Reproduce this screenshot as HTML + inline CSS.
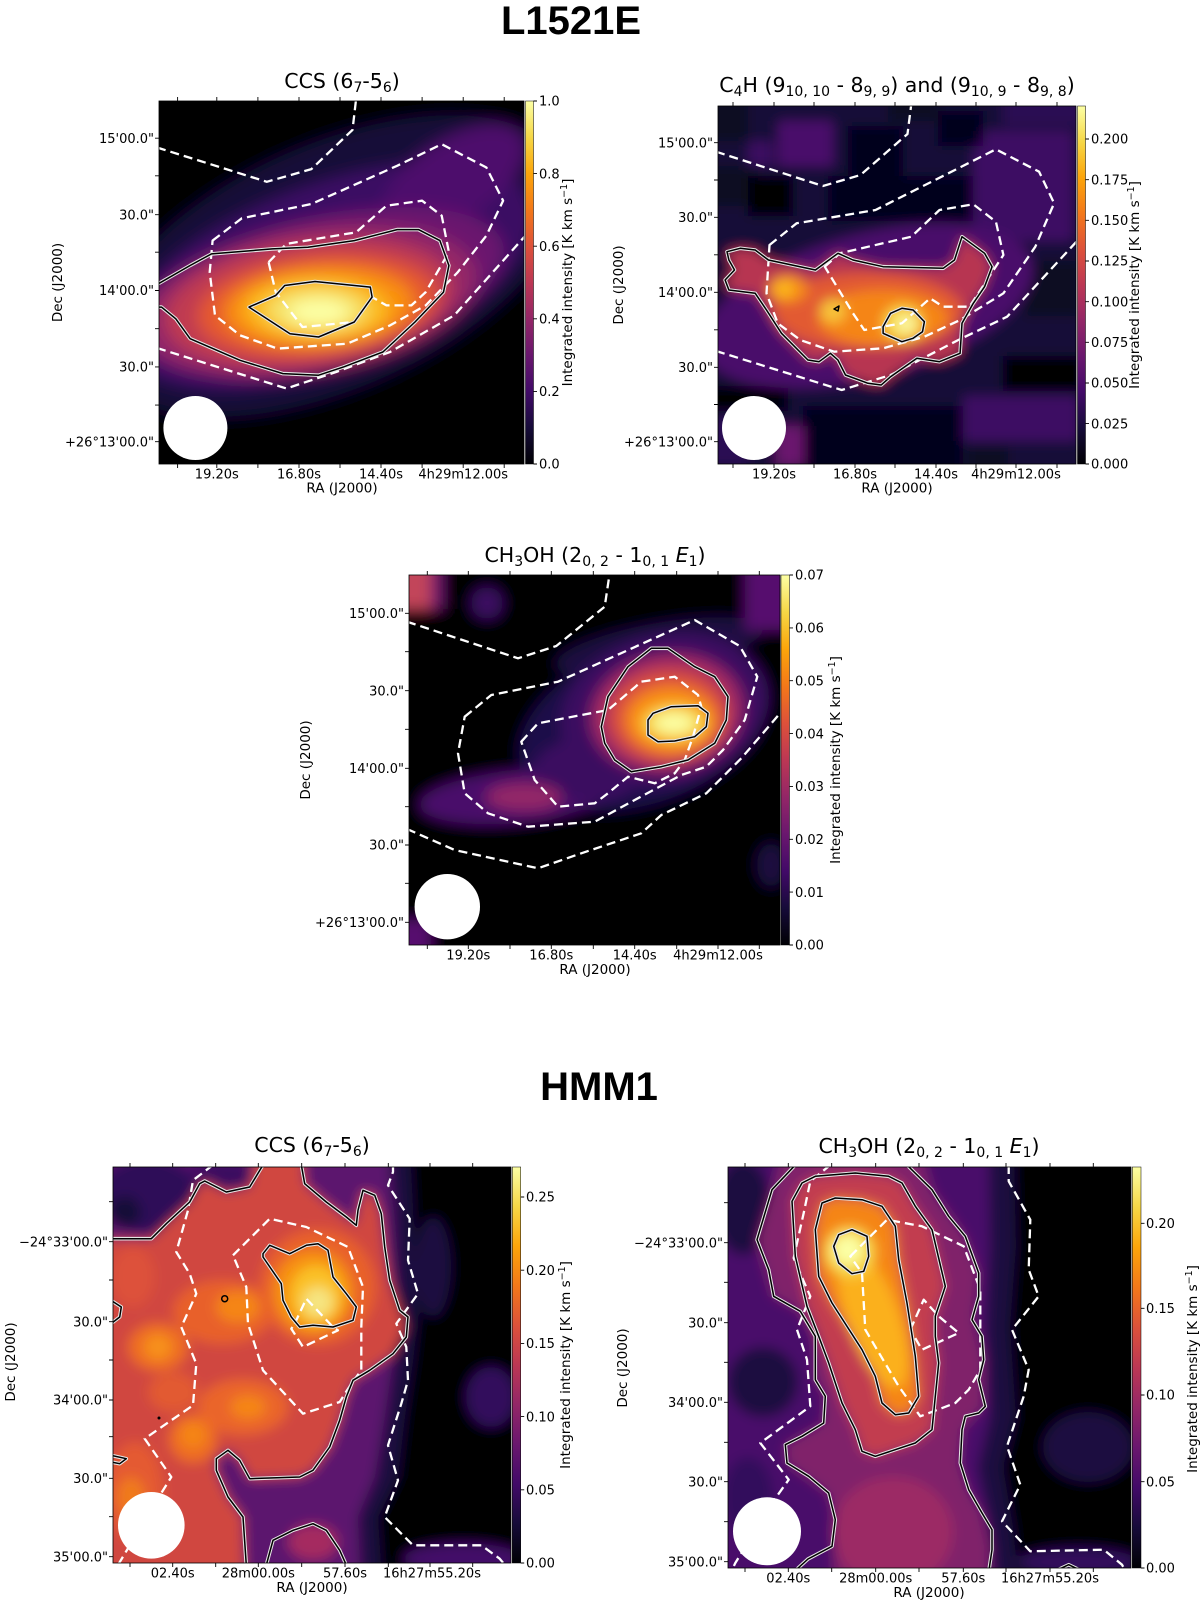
<!DOCTYPE html>
<html><head><meta charset="utf-8">
<style>
body{margin:0;background:#fff}
svg{display:block}
.d{fill:none;stroke:#fff;stroke-width:2.3;stroke-dasharray:9 5;stroke-linejoin:round}
.kw{fill:none;stroke:#e6e6e6;stroke-width:3.6;stroke-linejoin:round}
.k{fill:none;stroke:#000;stroke-width:1.5;stroke-linejoin:round}
.tk{fill:none;stroke:#000;stroke-width:0.9}
.tl{font-size:13px}
.al{font-size:13.5px}
.ti{font-size:20.5px}
</style></head>
<body>
<svg width="1200" height="1608" viewBox="0 0 1200 1608" xmlns="http://www.w3.org/2000/svg" xmlns:xlink="http://www.w3.org/1999/xlink" font-family="'DejaVu Sans','Liberation Sans',sans-serif" fill="#000">
<defs>
<linearGradient id="inf" x1="0" y1="1" x2="0" y2="0">
<stop offset="0" stop-color="#000004"/><stop offset="0.1" stop-color="#160b39"/><stop offset="0.2" stop-color="#420a68"/><stop offset="0.3" stop-color="#6a176e"/><stop offset="0.4" stop-color="#932667"/><stop offset="0.5" stop-color="#bc3754"/><stop offset="0.6" stop-color="#dd513a"/><stop offset="0.7" stop-color="#f37819"/><stop offset="0.8" stop-color="#fca50a"/><stop offset="0.9" stop-color="#f6d746"/><stop offset="1" stop-color="#fcffa4"/>
</linearGradient>
<filter id="bl8" filterUnits="userSpaceOnUse" x="-80" y="-80" width="580" height="580"><feGaussianBlur stdDeviation="8"/></filter>
<filter id="bl7" filterUnits="userSpaceOnUse" x="-80" y="-80" width="580" height="580"><feGaussianBlur stdDeviation="7"/></filter>
<filter id="bl6" filterUnits="userSpaceOnUse" x="-80" y="-80" width="580" height="580"><feGaussianBlur stdDeviation="6"/></filter>
<clipPath id="cp1"><rect width="365" height="363"/></clipPath>
<clipPath id="cp2"><rect width="358" height="358"/></clipPath>
<clipPath id="cp3"><rect width="371" height="370"/></clipPath>
<clipPath id="cp4"><rect width="398" height="396"/></clipPath>
<clipPath id="cp5"><rect width="403" height="401"/></clipPath>

<polyline id="p1e" points="-2,183.5 31.1,164.5 52.5,152.9 113.2,147.9 148.9,146.3 195.3,139.6 238.1,128.6 259.5,128.6 280.9,139.6 289.9,164.5 284.5,191.1 256,221 223.9,251 184.6,265.9 159.6,274.2 123.9,272.6 81,259.3 31.1,237.7 16.8,217.8 2.5,206.1 -2,206.1"/>
<polygon id="p1f" points="90,206.1 116.7,194.5 125.7,184.5 156,180.5 211.3,186.1 213.1,196.1 195.3,221 159.6,236 131,232.7"/>

<polygon id="p2e" points="9,145.7 22.2,142.3 37.2,144 50.4,154 97.4,164 120,147.3 135,154 165.1,160.7 225.2,162.3 236.5,154 244,130.7 266.6,147.3 274.1,160.7 266.6,180.7 255.3,197.3 244,217.3 242.1,247.3 221.5,255.7 198.9,252.3 172.6,270.7 163.2,279 150,277.3 127.5,269 119.9,254 112.4,247.3 101.1,255.7 89.9,254 63.5,227.3 48.5,204 37.2,187.3 10.9,184 7.1,174 16.5,164 10.9,154"/>
<polygon id="p2f" points="165.1,220.7 172.6,207.3 183.9,202.3 195.1,204 206.4,215.7 204.5,225.7 195.1,232.3 183.9,235.7 165.1,227.3"/>
<polygon id="p2g" points="116,203 121,200 120,205"/>

<polygon id="p3e" points="192.3,151.7 199,121.7 219,91.7 242.3,73.3 259,73.3 285.7,91.7 305.7,101.7 319,121.7 317.3,145 305.7,168.3 279,185 252.3,191.7 222.3,196.7 205.7,185 195.7,168.3"/>
<polygon id="p3f" points="239,145 244,138.3 262.3,131.7 289,130.7 299,138.3 297.3,151.7 285.7,161.7 265.7,166 249,166.7 239,160"/>

<polyline id="p4a" points="-2,71.7 38.3,71.7 53.3,56.7 76.7,35 86.7,16.7 91.7,14 113.3,25 136.7,20 150,-2"/>
<polyline id="p4b" points="188.3,-2 191.7,16.7 213.3,35 233.3,50 243.3,58.3 245,43.3 250,23.3 261.7,28.3 268.3,46.7 271.7,80 276.7,113.3 286.7,143.3 295,150 293.3,170 280,186.7 256.7,203.3 240,213.3 233.3,230 226.7,253.3 216.7,280 200,303.3 186.7,310 136.7,311.7 126.7,293.3 115,283.3 103.3,291.7 103.3,303.3 115,330 130,350 133.3,398"/>
<polyline id="p4c" points="153.3,398 160,373.3 180,363.3 200,356.7 213.3,363.3 226.7,383.3 233.3,398"/>
<polyline id="p4d" points="-2,133.3 8.3,140 6.7,150 -2,156.7"/>
<polyline id="p4e" points="-2,288.3 13.3,291.7 6.7,296.7 -2,295"/>
<polygon id="p4h" points="150,86.7 156.7,78.3 176.7,86.7 193.3,78.3 205,76.7 215,83.3 220,110 233.3,126.7 243.3,140 240,153.3 220,160 200,158.3 186.7,160 178.3,150 170,133.3 168.3,116.7 150,90"/>
<circle id="p4s" cx="111.7" cy="131.7" r="3"/>

<polyline id="p5a" points="67.3,-2 44,22.7 29,72.7 40.7,102.7 45.7,129.3 72.3,144.3 87.3,169.3 87.3,212.7 97.3,229.3 95.7,256 74,269.3 57.3,277.7 59,296 80.7,309.3 100.7,326 107.3,352.7 104,379.3 80,392 65.7,405"/>
<polyline id="p5b" points="179,-2 204,22.7 220.7,49.3 237.3,69.3 250.7,106 250.7,129.3 244,152.7 254,169.3 255.7,192.7 250.7,212.7 257.3,239.3 250.7,246 237.3,249.3 234,262.7 232.3,296 240.7,322.7 254,346 264,362.7 264,382.7 260.7,405"/>
<polyline id="p5c" points="325,405 340.7,397.7 356,405"/>
<polygon id="p5j" points="64,34.3 74,16 87.3,9.3 127.3,6 160.7,9.3 174,16 187.3,39.3 204,62.7 217.3,119.3 214,129.3 207.3,149.3 207.3,169.3 210.7,196 207.3,229.3 204,262.7 187.3,276 147.3,289.3 134,284.3 127.3,262.7 114,236 100.7,196 90.7,169.3 79,139.3 67.3,89.3"/>
<polygon id="p5k" points="87.3,62.7 94,36 107.3,31 134,32.7 154,39.3 167.3,59.3 170.7,92.7 179,136 187.3,189.3 190.7,229.3 180.7,246 167.3,247.7 154,236 147.3,209.3 134,182.7 104,136 90.7,109.3"/>
<polygon id="p5l" points="105.7,79.3 110.7,67.7 124,62.7 139,69.3 140.7,89.3 135.7,104.3 124,106.7 110.7,96"/>
</defs>

<!-- Main titles -->
<text x="571" y="34" font-family="'Liberation Sans',Arial,sans-serif" font-weight="bold" font-size="40" text-anchor="middle">L1521E</text>
<text x="599" y="1100" font-family="'Liberation Sans',Arial,sans-serif" font-weight="bold" font-size="40" text-anchor="middle">HMM1</text>

<!-- ================= PANEL 1 ================= -->
<g transform="translate(159,101)">
 <g clip-path="url(#cp1)">
  <g filter="url(#bl8)">
   <rect x="-60" y="-60" width="485" height="483" fill="#000004"/>
   <ellipse cx="175" cy="165" rx="250" ry="122" transform="rotate(-24 175 165)" fill="#160b39"/>
   <ellipse cx="170" cy="175" rx="215" ry="92" transform="rotate(-20 170 175)" fill="#3b0a64"/>
   <ellipse cx="295" cy="78" rx="80" ry="40" transform="rotate(-32 295 78)" fill="#4d0d6c"/>
   <ellipse cx="160" cy="190" rx="190" ry="72" transform="rotate(-14 160 190)" fill="#6a176e"/>
   <ellipse cx="150" cy="200" rx="170" ry="72" transform="rotate(-10 150 200)" fill="#932667"/>
   <ellipse cx="150" cy="202" rx="145" ry="62" transform="rotate(-8 150 202)" fill="#c03a51"/>
   <ellipse cx="158" cy="205" rx="120" ry="50" transform="rotate(-6 158 205)" fill="#e5592f"/>
   <ellipse cx="160" cy="206" rx="95" ry="40" transform="rotate(-4 160 206)" fill="#f98e09"/>
   <ellipse cx="158" cy="208" rx="72" ry="31" fill="#fbbd22"/>
   <ellipse cx="158" cy="209" rx="50" ry="21" fill="#f6e36a"/>
   <ellipse cx="160" cy="211" rx="30" ry="13" fill="#fcffa4"/>
  </g>
  <polyline class="d" points="-2,46.5 107.8,80.8 152.4,68.1 193.5,28.9 197.1,-2"/>
  <polygon class="d" points="53.6,139.6 82.8,117.3 152.4,103 238.1,64.8 282.7,43.2 327.4,66.5 344.1,99.7 327.4,134.6 298.8,171.2 266.7,204.4 231,224.4 188.1,242.7 118.5,247.6 81,234.3 56,214.4 50.7,171.2"/>
  <polygon class="d" points="109.6,161.2 127.4,142.9 197.1,131.3 227.4,104.7 263.1,99.7 282.7,114.7 289.9,151.2 266.7,191.1 252.4,204.4 227.4,204.4 213.1,196.1 195.3,221 143.5,226 116.7,191.1"/>
  <polyline class="d" points="-2,247 127.4,287.5 177.4,270.9 231,251 295.2,214.4 367,134"/>
  <use xlink:href="#p1e" class="kw"/><use xlink:href="#p1e" class="k"/>
  <use xlink:href="#p1f" class="kw"/><use xlink:href="#p1f" class="k"/>
  <circle cx="36.4" cy="327" r="32" fill="#fff"/>
 </g>
 <rect width="365" height="363" fill="none" stroke="#000" stroke-width="0.8"/>
</g>
<path class="tk" d="M177.6 101v-4M216.8 101v-4M257.9 101v-4M299 101v-4M340 101v-4M381 101v-4M422.1 101v-4M463.2 101v-4M504.2 101v-4M177.6 464v4M216.8 464v4M257.9 464v4M299 464v4M340 464v4M381 464v4M422.1 464v4M463.2 464v4M504.2 464v4M159 138.2h-4M159 175.8h-4M159 214.7h-4M159 252.2h-4M159 290.5h-4M159 328.7h-4M159 366.9h-4M159 405.1h-4M159 441.7h-4"/>
<rect x="525.5" y="101" width="8" height="363" fill="url(#inf)" stroke="#000" stroke-width="0.5"/>
<path class="tk" d="M533.5 101h3.5M533.5 173.6h3.5M533.5 246.2h3.5M533.5 318.8h3.5M533.5 391.4h3.5M533.5 464h3.5"/>
<g class="tl">
 <text x="539" y="105.7">1.0</text><text x="539" y="178.3">0.8</text><text x="539" y="250.9">0.6</text><text x="539" y="323.5">0.4</text><text x="539" y="396.1">0.2</text><text x="539" y="468.7">0.0</text>
 <g text-anchor="end"><text x="154" y="142.9">15'00.0"</text><text x="154" y="219.4">30.0"</text><text x="154" y="295.2">14'00.0"</text><text x="154" y="371.6">30.0"</text><text x="154" y="446.4">+26°13'00.0"</text></g>
 <g text-anchor="middle"><text x="216.8" y="478.5">19.20s</text><text x="299" y="478.5">16.80s</text><text x="381" y="478.5">14.40s</text><text x="463.2" y="478.5">4h29m12.00s</text></g>
</g>
<text class="al" x="342" y="492.5" text-anchor="middle">RA (J2000)</text>
<text class="al" transform="translate(62,282.5) rotate(-90)" text-anchor="middle">Dec (J2000)</text>
<text class="al" transform="translate(572,282.5) rotate(-90)" text-anchor="middle">Integrated intensity [K km s<tspan font-size="9.5" dy="-5">−1</tspan><tspan dy="5">]</tspan></text>
<text class="ti" x="342" y="88" text-anchor="middle">CCS (6<tspan font-size="14" dy="4">7</tspan><tspan dy="-4">-5</tspan><tspan font-size="14" dy="4">6</tspan><tspan dy="-4">)</tspan></text>

<!-- ================= PANEL 2 ================= -->
<g transform="translate(718,106)">
 <g clip-path="url(#cp2)">
  <g filter="url(#bl6)">
   <rect x="-60" y="-60" width="478" height="478" fill="#160a37"/>
   <rect x="-10" y="60" width="50" height="40" fill="#0a0722"/>
   <rect x="30" y="70" width="45" height="40" fill="#000004"/>
   <rect x="110" y="70" width="160" height="45" fill="#04031a"/>
   <rect x="130" y="20" width="55" height="50" fill="#06041a"/>
   <rect x="-10" y="-10" width="40" height="45" fill="#0a0722"/>
   <rect x="60" y="15" width="55" height="45" fill="#4a0c6b"/>
   <rect x="30" y="35" width="25" height="25" fill="#3a0a60"/>
   <rect x="255" y="25" width="100" height="110" fill="#3d0a63"/>
   <rect x="220" y="5" width="45" height="35" fill="#06041a"/>
   <rect x="285" y="-10" width="80" height="30" fill="#2a0b52"/>
   <rect x="170" y="-10" width="50" height="25" fill="#0a0722"/>
   <rect x="85" y="300" width="160" height="70" fill="#04031a"/>
   <rect x="-10" y="280" width="80" height="25" fill="#000004"/>
   <rect x="285" y="250" width="80" height="35" fill="#000004"/>
   <rect x="305" y="155" width="55" height="55" fill="#0a0722"/>
   <rect x="245" y="290" width="115" height="45" fill="#3d0a63"/>
   <rect x="58" y="320" width="28" height="40" fill="#6a176e"/>
   <rect x="-10" y="310" width="40" height="50" fill="#2a0b52"/>
   <rect x="250" y="340" width="40" height="30" fill="#0a0722"/>
   <ellipse cx="150" cy="200" rx="170" ry="72" transform="rotate(-15 150 200)" fill="#4a0c6b"/>
   <use xlink:href="#p2e" fill="#b73551"/>
   <ellipse cx="150" cy="205" rx="95" ry="38" fill="#e25a31"/>
   <ellipse cx="165" cy="212" rx="65" ry="28" fill="#f58513"/>
   <ellipse cx="70" cy="183" rx="20" ry="14" fill="#f68a12"/>
   <ellipse cx="185" cy="217" rx="20" ry="18" fill="#f6d746"/>
   <ellipse cx="115" cy="205" rx="13" ry="12" fill="#f7c33a"/>
   <ellipse cx="66" cy="183" rx="10" ry="9" fill="#fbb61a"/>
   <ellipse cx="188" cy="218" rx="10" ry="9" fill="#fbf5a0"/>
  </g>
  <polyline class="d" points="-2,45.7 104.9,80 142.5,69 189.5,28 193.3,-2"/>
  <polygon class="d" points="51.5,139 78.6,117.3 157.5,104 277.9,43.3 321.1,65.7 336.1,97.3 317.3,140.7 285.4,187.3 242.1,214 206.4,230.7 165.1,242.3 116.2,245.7 82.3,234 59.8,217.3 48.5,187.3"/>
  <polygon class="d" points="106.8,160.7 121.8,147.3 193.3,130.7 221.5,104 255.3,98.3 277.9,115.7 285.4,149 251.5,200.7 225.2,200.7 212.1,192.3 183.9,217.3 146.3,224 135,207.3"/>
  <polyline class="d" points="-2,245 123.7,284 172.6,269 240.3,234 289.1,210.7 360,134"/>
  <use xlink:href="#p2e" class="kw"/><use xlink:href="#p2e" class="k"/>
  <use xlink:href="#p2f" class="kw"/><use xlink:href="#p2f" class="k"/>
  <use xlink:href="#p2g" class="k"/>
  <circle cx="36" cy="322" r="32" fill="#fff"/>
 </g>
 <rect width="358" height="358" fill="none" stroke="#000" stroke-width="0.8"/>
</g>
<path class="tk" d="M733 106v-4M774 106v-4M814 106v-4M855 106v-4M895 106v-4M936 106v-4M976 106v-4M1016 106v-4M1057 106v-4M733 464v4M774 464v4M814 464v4M855 464v4M895 464v4M936 464v4M976 464v4M1016 464v4M1057 464v4M718 142.7h-4M718 180h-4M718 217.3h-4M718 254.8h-4M718 292.3h-4M718 329.8h-4M718 367.3h-4M718 404.5h-4M718 441.7h-4"/>
<rect x="1077.5" y="106" width="8" height="358" fill="url(#inf)" stroke="#000" stroke-width="0.5"/>
<path class="tk" d="M1085.5 139h3.5M1085.5 179.7h3.5M1085.5 220.3h3.5M1085.5 261h3.5M1085.5 301.7h3.5M1085.5 342.3h3.5M1085.5 383h3.5M1085.5 423.6h3.5M1085.5 464h3.5"/>
<g class="tl">
 <text x="1091" y="143.7">0.200</text><text x="1091" y="184.4">0.175</text><text x="1091" y="225">0.150</text><text x="1091" y="265.7">0.125</text><text x="1091" y="306.4">0.100</text><text x="1091" y="347">0.075</text><text x="1091" y="387.7">0.050</text><text x="1091" y="428.3">0.025</text><text x="1091" y="468.7">0.000</text>
 <g text-anchor="end"><text x="713" y="147.4">15'00.0"</text><text x="713" y="222">30.0"</text><text x="713" y="297">14'00.0"</text><text x="713" y="372">30.0"</text><text x="713" y="446.4">+26°13'00.0"</text></g>
 <g text-anchor="middle"><text x="774" y="478.5">19.20s</text><text x="855" y="478.5">16.80s</text><text x="936" y="478.5">14.40s</text><text x="1016" y="478.5">4h29m12.00s</text></g>
</g>
<text class="al" x="897" y="492.5" text-anchor="middle">RA (J2000)</text>
<text class="al" transform="translate(623,285) rotate(-90)" text-anchor="middle">Dec (J2000)</text>
<text class="al" transform="translate(1139,285) rotate(-90)" text-anchor="middle">Integrated intensity [K km s<tspan font-size="9.5" dy="-5">−1</tspan><tspan dy="5">]</tspan></text>
<text class="ti" x="897" y="92" text-anchor="middle">C<tspan font-size="14" dy="4">4</tspan><tspan dy="-4">H (9</tspan><tspan font-size="14" dy="4">10, 10</tspan><tspan dy="-4"> - 8</tspan><tspan font-size="14" dy="4">9, 9</tspan><tspan dy="-4">) and (9</tspan><tspan font-size="14" dy="4">10, 9</tspan><tspan dy="-4"> - 8</tspan><tspan font-size="14" dy="4">9, 8</tspan><tspan dy="-4">)</tspan></text>

<!-- ================= PANEL 3 ================= -->
<g transform="translate(409,575)">
 <g clip-path="url(#cp3)">
  <g filter="url(#bl7)">
   <rect x="-60" y="-60" width="491" height="490" fill="#000004"/>
   <ellipse cx="250" cy="72" rx="105" ry="24" transform="rotate(-10 250 72)" fill="#1b0c41"/>
   <ellipse cx="235" cy="150" rx="130" ry="78" transform="rotate(-20 235 150)" fill="#1f0c48"/>
   <ellipse cx="255" cy="135" rx="105" ry="75" transform="rotate(-15 255 135)" fill="#3a0a60"/>
   <ellipse cx="105" cy="222" rx="95" ry="26" transform="rotate(-5 105 222)" fill="#4a0c6b"/>
   <ellipse cx="180" cy="195" rx="55" ry="32" fill="#3a0a60"/>
   <ellipse cx="115" cy="222" rx="38" ry="14" fill="#932667"/>
   <ellipse cx="258" cy="138" rx="78" ry="60" transform="rotate(-10 258 138)" fill="#8f2469"/>
   <ellipse cx="258" cy="138" rx="68" ry="52" transform="rotate(-10 258 138)" fill="#b0335a"/>
   <ellipse cx="260" cy="142" rx="58" ry="45" fill="#dd513a"/>
   <ellipse cx="262" cy="145" rx="45" ry="33" fill="#f98e09"/>
   <ellipse cx="265" cy="148" rx="32" ry="18" fill="#f6d746"/>
   <ellipse cx="265" cy="148" rx="20" ry="10" fill="#fcffa4"/>
   <rect x="-20" y="-20" width="42" height="54" fill="#c2455a"/>
   <rect x="22" y="-20" width="12" height="54" fill="#6a176e"/>
   <ellipse cx="78" cy="28" rx="16" ry="16" fill="#3a0a60"/>
   <rect x="336" y="-20" width="55" height="75" fill="#57106e"/>
   <rect x="-20" y="345" width="42" height="45" fill="#57106e"/>
   <ellipse cx="362" cy="290" rx="14" ry="22" fill="#1b0c41"/>
  </g>
  <polyline class="d" points="-2,46.7 109,83.3 147.3,71 195.7,31.7 200.7,-2"/>
  <polygon class="d" points="55.7,141.7 82.3,120 149,106.7 285.7,45 330.7,71 348.3,101.7 335.7,145 314,175 297.3,191.7 272.3,200 225.7,225 185.7,246.7 119,251.7 79,238.3 55.7,218.3 49,178.3"/>
  <polygon class="d" points="112.3,166.7 129,148.3 199,135 232.3,106.7 265.7,101.7 289,120 292.3,131.7 284,161.7 275.7,185 265.7,198.3 245.7,208.3 219,201.7 199,218.3 185.7,228.3 149,231.7 125.7,205"/>
  <polyline class="d" points="-2,254 45.7,275 129,293.3 172.3,278.3 232.3,258.3 252.3,240 297.3,218.3 332.3,183.3 373,136"/>
  <use xlink:href="#p3e" class="kw"/><use xlink:href="#p3e" class="k"/>
  <use xlink:href="#p3f" class="kw"/><use xlink:href="#p3f" class="k"/>
  <circle cx="38.3" cy="331.7" r="32.7" fill="#fff"/>
 </g>
 <rect width="371" height="370" fill="none" stroke="#000" stroke-width="0.8"/>
</g>
<path class="tk" d="M427.3 575v-4M468.3 575v-4M510 575v-4M551.3 575v-4M593.3 575v-4M634.7 575v-4M676.7 575v-4M718 575v-4M759.3 575v-4M427.3 945v4M468.3 945v4M510 945v4M551.3 945v4M593.3 945v4M634.7 945v4M676.7 945v4M718 945v4M759.3 945v4M409 613.3h-4M409 651.7h-4M409 690.7h-4M409 729.3h-4M409 768.3h-4M409 806.7h-4M409 845h-4M409 883.3h-4M409 922.3h-4"/>
<rect x="781" y="575" width="8.5" height="370" fill="url(#inf)" stroke="#000" stroke-width="0.5"/>
<path class="tk" d="M789.5 575h3.5M789.5 627.9h3.5M789.5 680.7h3.5M789.5 733.6h3.5M789.5 786.4h3.5M789.5 839.3h3.5M789.5 892.1h3.5M789.5 945h3.5"/>
<g class="tl">
 <text x="795" y="579.7">0.07</text><text x="795" y="632.6">0.06</text><text x="795" y="685.4">0.05</text><text x="795" y="738.3">0.04</text><text x="795" y="791.1">0.03</text><text x="795" y="844">0.02</text><text x="795" y="896.8">0.01</text><text x="795" y="949.7">0.00</text>
 <g text-anchor="end"><text x="404" y="618">15'00.0"</text><text x="404" y="695.4">30.0"</text><text x="404" y="773">14'00.0"</text><text x="404" y="849.7">30.0"</text><text x="404" y="927">+26°13'00.0"</text></g>
 <g text-anchor="middle"><text x="468.3" y="959.5">19.20s</text><text x="551.3" y="959.5">16.80s</text><text x="634.7" y="959.5">14.40s</text><text x="718" y="959.5">4h29m12.00s</text></g>
</g>
<text class="al" x="595" y="974" text-anchor="middle">RA (J2000)</text>
<text class="al" transform="translate(310,760) rotate(-90)" text-anchor="middle">Dec (J2000)</text>
<text class="al" transform="translate(840,760) rotate(-90)" text-anchor="middle">Integrated intensity [K km s<tspan font-size="9.5" dy="-5">−1</tspan><tspan dy="5">]</tspan></text>
<text class="ti" x="595" y="562" text-anchor="middle">CH<tspan font-size="14" dy="4">3</tspan><tspan dy="-4">OH (2</tspan><tspan font-size="14" dy="4">0, 2</tspan><tspan dy="-4"> - 1</tspan><tspan font-size="14" dy="4">0, 1</tspan><tspan dy="-4"> </tspan><tspan font-style="italic">E</tspan><tspan font-size="14" dy="4">1</tspan><tspan dy="-4">)</tspan></text>

<!-- ================= PANEL 4 ================= -->
<g transform="translate(113,1167)">
 <g clip-path="url(#cp4)">
  <g filter="url(#bl6)">
   <rect x="-60" y="-60" width="518" height="516" fill="#5c126e"/>
   <polygon points="272,-60 460,-60 460,460 250,460 245,350 262,310 272,250 280,195 285,150 282,100 280,40" fill="#1b0c41"/>
   <polygon points="295,-60 460,-60 460,460 272,460 265,350 285,310 292,250 300,195 305,150 302,100 300,40" fill="#000004"/>
   <ellipse cx="378" cy="230" rx="25" ry="30" fill="#300a5b"/>
   <ellipse cx="350" cy="392" rx="60" ry="16" fill="#420a68"/>
   <ellipse cx="320" cy="100" rx="18" ry="50" fill="#1b0c41"/>
   <ellipse cx="35" cy="28" rx="50" ry="38" fill="#2d0b59"/>
   <ellipse cx="12" cy="45" rx="16" ry="16" fill="#160b39"/>
   <ellipse cx="110" cy="8" rx="35" ry="14" fill="#3a0a60"/>
   <polygon points="-60,72 38,72 53,57 77,35 87,17 92,14 113,25 137,20 150,-60 188,-60 192,17 213,35 233,50 243,58 245,43 250,23 262,28 268,47 272,80 277,113 287,143 292,160 280,187 257,203 240,213 233,230 227,253 217,280 200,303 187,310 137,312 127,293 115,283 103,292 103,303 115,330 130,350 133,460 -60,460" fill="#d0473f"/>
   <ellipse cx="200" cy="375" rx="25" ry="18" fill="#a52c60"/>
   <ellipse cx="205" cy="120" rx="58" ry="58" fill="#e8602c"/>
   <ellipse cx="110" cy="145" rx="50" ry="32" fill="#e8602c"/>
   <ellipse cx="45" cy="180" rx="30" ry="24" fill="#ee6d22"/>
   <ellipse cx="130" cy="240" rx="45" ry="28" fill="#ea652a"/>
   <ellipse cx="80" cy="272" rx="24" ry="24" fill="#ee6d22"/>
   <ellipse cx="22" cy="325" rx="28" ry="50" fill="#e45a30"/>
   <ellipse cx="20" cy="110" rx="22" ry="30" fill="#dd513a"/>
   <ellipse cx="60" cy="225" rx="25" ry="20" fill="#e25a31"/>
   <ellipse cx="200" cy="125" rx="40" ry="42" fill="#f7900e"/>
   <ellipse cx="125" cy="140" rx="22" ry="16" fill="#f58513"/>
   <ellipse cx="45" cy="180" rx="14" ry="13" fill="#f7901a"/>
   <ellipse cx="80" cy="268" rx="13" ry="13" fill="#f58513"/>
   <ellipse cx="135" cy="240" rx="18" ry="12" fill="#f58513"/>
   <ellipse cx="18" cy="330" rx="14" ry="20" fill="#f07a1c"/>
   <ellipse cx="203" cy="128" rx="26" ry="30" fill="#fac127"/>
   <ellipse cx="205" cy="135" rx="15" ry="15" fill="#f6e480"/>
  </g>
  <polyline class="d" points="100,-2 80,13.3 75,43.3 63.3,85 76.7,106.7 83.3,126.7 68.3,160 83.3,196.7 80,238.3 31.7,271.7 58.3,310 41.7,336.7 5,398"/>
  <polygon class="d" points="120,88.3 156.7,51.7 193.3,60 235,80 250,120 248.3,160 248.3,203.3 238.3,216.7 226.7,235 190,246.7 150,203.3 135,156.7 133.3,120"/>
  <polygon class="d" points="181.7,156.7 193.3,131.7 220,160 225,163.3 190,180 178.3,161.7"/>
  <polyline class="d" points="280,-2 280,5 275,18.3 296.7,51.7 295,93.3 305,126.7 283.3,156.7 293.3,180 295,213.3 288.3,236.7 275,278.3 285,313.3 271.7,350 300,378.3 368.3,378.3 386.7,391.7 392,398"/>
  <use xlink:href="#p4a" class="kw"/><use xlink:href="#p4a" class="k"/>
  <use xlink:href="#p4b" class="kw"/><use xlink:href="#p4b" class="k"/>
  <use xlink:href="#p4c" class="kw"/><use xlink:href="#p4c" class="k"/>
  <use xlink:href="#p4d" class="kw"/><use xlink:href="#p4d" class="k"/>
  <use xlink:href="#p4e" class="kw"/><use xlink:href="#p4e" class="k"/>
  <use xlink:href="#p4h" class="kw"/><use xlink:href="#p4h" class="k"/>
  <use xlink:href="#p4s" class="k"/>
  <circle cx="46" cy="251" r="1.5" fill="#000"/>
  <circle cx="38.3" cy="358.3" r="33.3" fill="#fff"/>
 </g>
 <rect width="398" height="396" fill="none" stroke="#000" stroke-width="0.8"/>
</g>
<path class="tk" d="M130 1167v-4M172.7 1167v-4M215.7 1167v-4M258.3 1167v-4M301.7 1167v-4M345 1167v-4M388.3 1167v-4M430 1167v-4M472.7 1167v-4M130 1563v4M172.7 1563v4M215.7 1563v4M258.3 1563v4M301.7 1563v4M345 1563v4M388.3 1563v4M430 1563v4M472.7 1563v4M113 1201.7h-4M113 1241.7h-4M113 1280h-4M113 1321.7h-4M113 1360h-4M113 1400h-4M113 1436.7h-4M113 1478.3h-4M113 1516.7h-4M113 1556.7h-4"/>
<rect x="512.3" y="1167" width="8.4" height="396" fill="url(#inf)" stroke="#000" stroke-width="0.5"/>
<path class="tk" d="M520.7 1197h3.5M520.7 1270.2h3.5M520.7 1343.4h3.5M520.7 1416.6h3.5M520.7 1489.8h3.5M520.7 1563h3.5"/>
<g class="tl">
 <text x="526" y="1201.7">0.25</text><text x="526" y="1274.9">0.20</text><text x="526" y="1348.1">0.15</text><text x="526" y="1421.3">0.10</text><text x="526" y="1494.5">0.05</text><text x="526" y="1567.7">0.00</text>
 <g text-anchor="end"><text x="108" y="1246.4">−24°33'00.0"</text><text x="108" y="1326.4">30.0"</text><text x="108" y="1404.7">34'00.0"</text><text x="108" y="1483">30.0"</text><text x="108" y="1561.4">35'00.0"</text></g>
 <g text-anchor="middle"><text x="172.7" y="1577.5">02.40s</text><text x="258.3" y="1577.5">28m00.00s</text><text x="345" y="1577.5">57.60s</text><text x="432" y="1577.5">16h27m55.20s</text></g>
</g>
<text class="al" x="312" y="1592" text-anchor="middle">RA (J2000)</text>
<text class="al" transform="translate(15,1362) rotate(-90)" text-anchor="middle">Dec (J2000)</text>
<text class="al" transform="translate(570,1365) rotate(-90)" text-anchor="middle">Integrated intensity [K km s<tspan font-size="9.5" dy="-5">−1</tspan><tspan dy="5">]</tspan></text>
<text class="ti" x="312" y="1152" text-anchor="middle">CCS (6<tspan font-size="14" dy="4">7</tspan><tspan dy="-4">-5</tspan><tspan font-size="14" dy="4">6</tspan><tspan dy="-4">)</tspan></text>

<!-- ================= PANEL 5 ================= -->
<g transform="translate(728,1167)">
 <g clip-path="url(#cp5)">
  <g filter="url(#bl6)">
   <rect x="-60" y="-60" width="523" height="521" fill="#000004"/>
   <polygon points="-60,-60 285,-60 288,80 282,160 288,250 275,300 285,360 295,460 -60,460" fill="#1b0c41"/>
   <polygon points="-60,-60 260,-60 262,80 258,160 262,250 250,300 262,360 272,460 -60,460" fill="#4a0c6b"/>
   <ellipse cx="15" cy="40" rx="28" ry="48" fill="#1b0c41"/>
   <ellipse cx="35" cy="215" rx="35" ry="35" fill="#1b0c41"/>
   <ellipse cx="20" cy="330" rx="25" ry="40" fill="#300a5b"/>
   <polygon points="67,-60 179,-60 204,23 237,69 251,106 246,152 256,192 255,240 235,262 232,296 240,322 254,346 262,380 260,460 105,460 107,352 100,326 59,296 57,278 96,256 97,229 87,212 87,169 72,144 45,129 29,73 44,23" fill="#80206b"/>
   <ellipse cx="165" cy="365" rx="60" ry="55" fill="#9c2a65"/>
   <use xlink:href="#p5j" fill="#c23c4f"/>
   <use xlink:href="#p5k" fill="#f58513"/>
   <ellipse cx="145" cy="150" rx="26" ry="75" transform="rotate(-20 145 150)" fill="#fbb01a"/>
   <ellipse cx="122" cy="85" rx="25" ry="25" fill="#f6d746"/>
   <ellipse cx="120" cy="83" rx="15" ry="15" fill="#fcffa4"/>
   <ellipse cx="360" cy="280" rx="45" ry="35" fill="#1b0c41"/>
   <ellipse cx="350" cy="395" rx="60" ry="14" fill="#300a5b"/>
  </g>
  <polyline class="d" points="102.3,-2 82.3,14.3 75.7,46 65.7,91 75.7,114.3 82.3,129.3 69,162.7 79,192.7 82.3,239.3 32.3,276 60.7,312.7 44,336 7.3,396 3,405"/>
  <polygon class="d" points="122.3,89.3 159,52.7 194,59.3 235.7,79.3 252.3,122.7 252.3,162.7 252.3,202.7 240.7,222.7 227.3,236 192.3,249.3 170.7,219.3 137.3,162.7 134,106"/>
  <polygon class="d" points="182.3,162.7 195.7,132.7 210.7,149.3 230.7,166 194,182.7"/>
  <polyline class="d" points="280.7,-2 280.7,14.3 302.3,52.7 300.7,102.7 310.7,129.3 284,162.7 300.7,202.7 295.7,229.3 279,279.3 292.3,317.7 274,354.3 302.3,384.3 375.7,382.7 394,397.7 398,405"/>
  <use xlink:href="#p5a" class="kw"/><use xlink:href="#p5a" class="k"/>
  <use xlink:href="#p5b" class="kw"/><use xlink:href="#p5b" class="k"/>
  <use xlink:href="#p5c" class="kw"/><use xlink:href="#p5c" class="k"/>
  <use xlink:href="#p5j" class="kw"/><use xlink:href="#p5j" class="k"/>
  <use xlink:href="#p5k" class="kw"/><use xlink:href="#p5k" class="k"/>
  <use xlink:href="#p5l" class="kw"/><use xlink:href="#p5l" class="k"/>
  <circle cx="39" cy="364.3" r="34" fill="#fff"/>
 </g>
 <rect width="403" height="401" fill="none" stroke="#000" stroke-width="0.8"/>
</g>
<path class="tk" d="M745 1167v-4M788.3 1167v-4M831.7 1167v-4M875.7 1167v-4M919 1167v-4M963.3 1167v-4M1006 1167v-4M1050 1167v-4M1093.3 1167v-4M745 1568v4M788.3 1568v4M831.7 1568v4M875.7 1568v4M919 1568v4M963.3 1568v4M1006 1568v4M1050 1568v4M1093.3 1568v4M728 1202.7h-4M728 1242.7h-4M728 1282.3h-4M728 1322.7h-4M728 1362.3h-4M728 1402.3h-4M728 1442.3h-4M728 1481.7h-4M728 1521.7h-4M728 1561.7h-4"/>
<rect x="1132.3" y="1167" width="8.7" height="401" fill="url(#inf)" stroke="#000" stroke-width="0.5"/>
<path class="tk" d="M1141 1223.3h3.5M1141 1308.3h3.5M1141 1395h3.5M1141 1481.7h3.5M1141 1568h3.5"/>
<g class="tl">
 <text x="1146" y="1228">0.20</text><text x="1146" y="1313">0.15</text><text x="1146" y="1399.7">0.10</text><text x="1146" y="1486.4">0.05</text><text x="1146" y="1572.7">0.00</text>
 <g text-anchor="end"><text x="723" y="1247.4">−24°33'00.0"</text><text x="723" y="1327.4">30.0"</text><text x="723" y="1407">34'00.0"</text><text x="723" y="1486.4">30.0"</text><text x="723" y="1566.4">35'00.0"</text></g>
 <g text-anchor="middle"><text x="788.3" y="1582.5">02.40s</text><text x="875.7" y="1582.5">28m00.00s</text><text x="963.3" y="1582.5">57.60s</text><text x="1050" y="1582.5">16h27m55.20s</text></g>
</g>
<text class="al" x="929" y="1597" text-anchor="middle">RA (J2000)</text>
<text class="al" transform="translate(627,1368) rotate(-90)" text-anchor="middle">Dec (J2000)</text>
<text class="al" transform="translate(1197,1369) rotate(-90)" text-anchor="middle">Integrated intensity [K km s<tspan font-size="9.5" dy="-5">−1</tspan><tspan dy="5">]</tspan></text>
<text class="ti" x="929" y="1153" text-anchor="middle">CH<tspan font-size="14" dy="4">3</tspan><tspan dy="-4">OH (2</tspan><tspan font-size="14" dy="4">0, 2</tspan><tspan dy="-4"> - 1</tspan><tspan font-size="14" dy="4">0, 1</tspan><tspan dy="-4"> </tspan><tspan font-style="italic">E</tspan><tspan font-size="14" dy="4">1</tspan><tspan dy="-4">)</tspan></text>

</svg>
</body></html>
